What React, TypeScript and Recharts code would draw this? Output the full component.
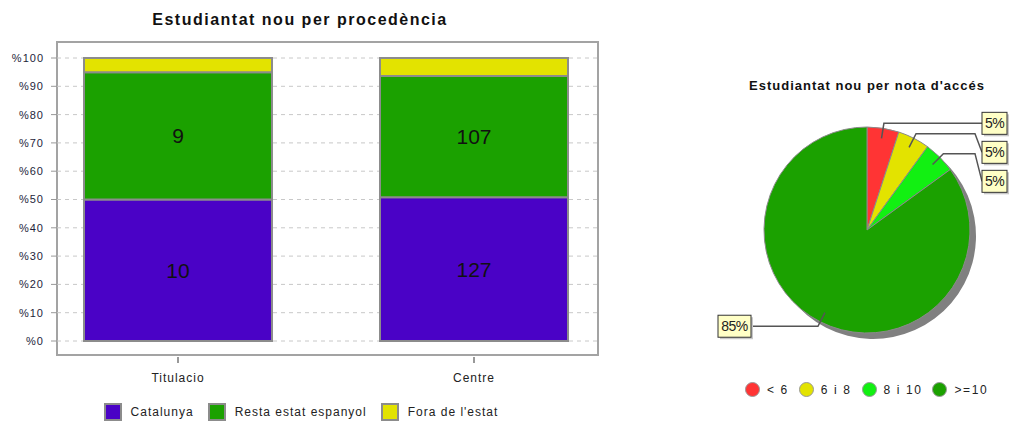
import React from 'react';
import {
  BarChart,
  Bar,
  XAxis,
  YAxis,
  CartesianGrid,
  LabelList,
  Legend,
  PieChart,
  Pie,
  Cell,
} from 'recharts';

// Estudiantat nou per procedència (stacked, 100%)
const categories = ['Titulacio', 'Centre'];
const catalunya = [10, 127];
const restaEstat = [9, 107];
const foraEstat = [1, 16];
const yTicks = [0, 10, 20, 30, 40, 50, 60, 70, 80, 90, 100];
const seriesNames = ['Catalunya', 'Resta estat espanyol', "Fora de l'estat"];
const seriesColors = ['#4a02c6', '#1ba100', '#e3e300'];

// Estudiantat nou per nota d'accés
const notaLabels = ['< 6', '6 i 8', '8 i 10', '>=10'];
const notaValues = [1, 1, 1, 17];
const notaColors = ['#ff3434', '#e3e300', '#12f012', '#1ba100'];

const FONT = '"Liberation Sans", Arial, sans-serif';

const barData = categories.map((name, i) => ({
  name,
  catalunya: catalunya[i],
  resta: restaEstat[i],
  fora: foraEstat[i],
}));

const pieData = notaLabels.map((name, i) => ({ name, value: notaValues[i] }));

// pie geometry (inside the 310px wide pie chart)
const PIE_CX = 167;
const PIE_CY = 230;
const PIE_R = 103;

const RAD = Math.PI / 180;
const polar = (r: number, deg: number) => ({
  x: PIE_CX + r * Math.cos(deg * RAD),
  y: PIE_CY - r * Math.sin(deg * RAD),
});

// place the callout boxes, pushing the right-hand ones down so they don't overlap
const pieLabelLayout = (() => {
  const total = notaValues.reduce((a, b) => a + b, 0);
  let acc = 0;
  const items = notaValues.map((v, i) => {
    const mid = 90 - ((acc + v / 2) / total) * 360;
    acc += v;
    const anchor = polar(PIE_R * 0.9, mid);
    const elbow = polar(PIE_R + 5, mid);
    const right = Math.cos(mid * RAD) >= 0;
    const text = `${Math.round((v / total) * 100)}%`;
    return { i, anchor, elbow, right, text, boxY: elbow.y };
  });
  let prev = -Infinity;
  items
    .filter((it) => it.right)
    .sort((a, b) => a.elbow.y - b.elbow.y)
    .forEach((it) => {
      it.boxY = Math.max(it.elbow.y, prev + 29);
      prev = it.boxY;
    });
  return items;
})();

const renderPieLabel = (props: any) => {
  const it = pieLabelLayout[props.index];
  if (!it) return null;
  const w = it.text.length * 8 + 9;
  const h = 22;
  const edgeX = it.right ? PIE_CX + PIE_R + 5 : PIE_CX - PIE_R - 13;
  const boxX = it.right ? PIE_CX + PIE_R + 12 : edgeX - w;
  const lineEndX = it.right ? boxX : edgeX;
  return (
    <g key={`lbl-${it.i}`}>
      <polyline
        points={`${it.anchor.x},${it.anchor.y} ${it.elbow.x},${it.elbow.y} ${edgeX},${it.elbow.y} ${lineEndX},${it.boxY}`}
        fill="none"
        stroke="#555"
        strokeWidth={1.5}
      />
      <rect x={boxX + 2} y={it.boxY - h / 2 + 2} width={w} height={h} fill="#c8c8c8" />
      <rect x={boxX} y={it.boxY - h / 2} width={w} height={h} fill="#ffffc6" stroke="#333" strokeWidth={1} />
      <text
        x={boxX + w / 2}
        y={it.boxY + 5}
        textAnchor="middle"
        fontSize={14}
        fill="#222"
        style={{ fontFamily: FONT, letterSpacing: -0.5 }}
      >
        {it.text}
      </text>
    </g>
  );
};

const XTick = (props: any) => {
  const { x, y, payload } = props;
  return (
    <g>
      <line x1={x} x2={x} y1={y + 16} y2={y + 22} stroke="#999" strokeWidth={2} />
      <text
        x={x}
        y={y + 41}
        textAnchor="middle"
        fontSize={12}
        fill="#222"
        style={{ fontFamily: FONT, letterSpacing: 1 }}
      >
        {payload.value}
      </text>
    </g>
  );
};

const BarLegend = () => (
  <div style={{ display: 'flex', justifyContent: 'center', alignItems: 'center', fontFamily: FONT }}>
    {seriesNames.map((name, i) => (
      <div
        key={name}
        style={{ display: 'flex', alignItems: 'center', marginLeft: i === 0 ? 0 : 14 }}
      >
        <div
          style={{
            width: 14,
            height: 14,
            background: seriesColors[i],
            border: '2px solid #8c8c8c',
            marginRight: 9,
          }}
        />
        <span style={{ fontSize: 12, color: '#222', letterSpacing: 1 }}>{name}</span>
      </div>
    ))}
  </div>
);

const PieLegend = () => (
  <div style={{ display: 'flex', alignItems: 'center', fontFamily: FONT }}>
    {notaLabels.map((name, i) => (
      <div key={name} style={{ display: 'flex', alignItems: 'center', marginRight: 10 }}>
        <div
          style={{
            width: 13,
            height: 13,
            borderRadius: '50%',
            background: notaColors[i],
            border: '1px solid #999',
            marginRight: 7,
          }}
        />
        <span style={{ fontSize: 12, color: '#222', letterSpacing: 1.6 }}>{name}</span>
      </div>
    ))}
  </div>
);

export default function App() {
  return (
    <div
      style={{
        position: 'absolute',
        left: 0,
        top: 0,
        width: 1010,
        height: 423,
        background: '#fff',
        fontFamily: FONT,
        overflow: 'hidden',
      }}
    >
      <div
        style={{
          position: 'absolute',
          left: 0,
          top: 10,
          width: 600,
          textAlign: 'center',
          fontWeight: 'bold',
          fontSize: 16,
          lineHeight: '20px',
          letterSpacing: 1.5,
          color: '#111',
        }}
      >
        Estudiantat nou per procedència
      </div>
      {/* plot frame */}
      <div
        style={{
          position: 'absolute',
          left: 56,
          top: 41,
          width: 543,
          height: 315,
          border: '2px solid #a3a3a3',
          boxSizing: 'border-box',
        }}
      />
      <div style={{ position: 'absolute', left: 0, top: 0 }}>
        <BarChart
          width={620}
          height={423}
          data={barData}
          stackOffset="expand"
          barSize={188}
          margin={{ top: 58, right: 22, bottom: 52, left: 0 }}
        >
          <CartesianGrid vertical={false} stroke="#c8c8c8" strokeDasharray="4 4" />
          <XAxis
            dataKey="name"
            axisLine={false}
            tickLine={false}
            tickSize={0}
            tickMargin={0}
            height={30}
            padding={{ left: -27, right: -24 }}
            tick={<XTick />}
          />
          <YAxis
            width={57}
            domain={[0, 1]}
            ticks={yTicks.map((t) => t / 100)}
            interval={0}
            axisLine={false}
            tickLine={{ stroke: '#999' }}
            tickSize={6}
            tickMargin={7}
            tickFormatter={(v: number) => `%${Math.round(v * 100)}`}
            tick={{ fontSize: 11, fill: '#1e1e3a', fontFamily: FONT, letterSpacing: 1 }}
          />
          <Legend
            layout="horizontal"
            verticalAlign="middle"
            align="center"
            wrapperStyle={{ top: 403, left: 0, width: 602 }}
            content={<BarLegend />}
          />
          <Bar
            dataKey="catalunya"
            stackId="a"
            name={seriesNames[0]}
            fill={seriesColors[0]}
            stroke="#8c8c8c"
            strokeWidth={2}
            isAnimationActive={false}
          >
            <LabelList dataKey="catalunya" position="center" fill="#111" fontSize={21} fontFamily={FONT} />
          </Bar>
          <Bar
            dataKey="resta"
            stackId="a"
            name={seriesNames[1]}
            fill={seriesColors[1]}
            stroke="#8c8c8c"
            strokeWidth={2}
            isAnimationActive={false}
          >
            <LabelList dataKey="resta" position="center" fill="#111" fontSize={21} fontFamily={FONT} />
          </Bar>
          <Bar
            dataKey="fora"
            stackId="a"
            name={seriesNames[2]}
            fill={seriesColors[2]}
            stroke="#8c8c8c"
            strokeWidth={2}
            isAnimationActive={false}
          />
        </BarChart>
      </div>

      <div
        style={{
          position: 'absolute',
          left: 700,
          top: 78,
          width: 334,
          textAlign: 'center',
          fontWeight: 'bold',
          fontSize: 13,
          lineHeight: '16px',
          letterSpacing: 1,
          color: '#111',
        }}
      >
        Estudiantat nou per nota d'accés
      </div>
      <div style={{ position: 'absolute', left: 700, top: 0 }}>
        <PieChart width={310} height={423} margin={{ top: 0, right: 0, bottom: 0, left: 0 }}>
          {/* drop shadow */}
          <Pie
            data={pieData}
            dataKey="value"
            nameKey="name"
            cx={PIE_CX + 6}
            cy={PIE_CY + 6}
            outerRadius={PIE_R}
            startAngle={90}
            endAngle={-270}
            stroke="none"
            legendType="none"
            isAnimationActive={false}
          >
            {pieData.map((d) => (
              <Cell key={d.name} fill="#808080" />
            ))}
          </Pie>
          <Pie
            data={pieData}
            dataKey="value"
            nameKey="name"
            cx={PIE_CX}
            cy={PIE_CY}
            outerRadius={PIE_R}
            startAngle={90}
            endAngle={-270}
            stroke="#8a8a8a"
            strokeWidth={1}
            label={renderPieLabel}
            labelLine={false}
            isAnimationActive={false}
          >
            {pieData.map((d, i) => (
              <Cell key={d.name} fill={notaColors[i]} />
            ))}
          </Pie>
          <Legend
            layout="horizontal"
            verticalAlign="middle"
            align="center"
            wrapperStyle={{ top: 382, left: 45, width: 265 }}
            content={<PieLegend />}
          />
        </PieChart>
      </div>
    </div>
  );
}
